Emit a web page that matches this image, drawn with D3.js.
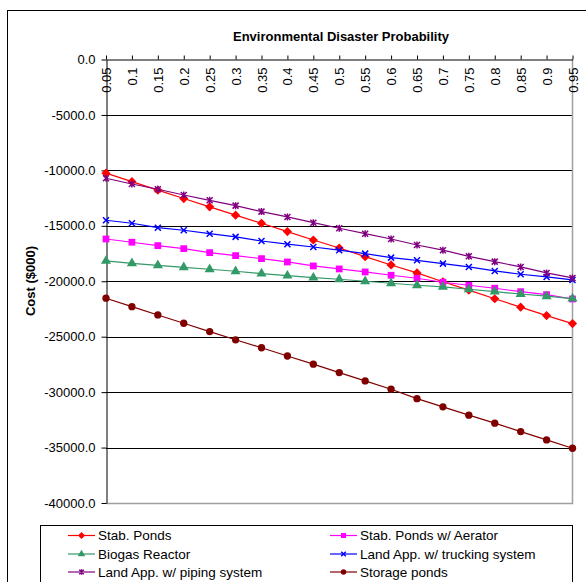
<!DOCTYPE html>
<html>
<head>
<meta charset="utf-8">
<script src="https://cdn.jsdelivr.net/npm/d3@7"></script>
<style>
  body { margin: 0; background: #fff; }
  svg { font-family: "Liberation Sans", Arial, sans-serif; }
  .axis text { font-size: 13px; fill: #000; }
  .axis path, .axis line { stroke: #000; }
</style>
</head>
<body>
<svg id="chart" width="586" height="582"></svg>
<script>
// probability values along the x axis
const probabilities = [0.05, 0.1, 0.15, 0.2, 0.25, 0.3, 0.35, 0.4, 0.45, 0.5, 0.55, 0.6, 0.65, 0.7, 0.75, 0.8, 0.85, 0.9, 0.95];
const xTickLabels = ["0.05", "0.1", "0.15", "0.2", "0.25", "0.3", "0.35", "0.4", "0.45", "0.5", "0.55", "0.6", "0.65", "0.7", "0.75", "0.8", "0.85", "0.9", "0.95"];
const yTicks = [0, -5000, -10000, -15000, -20000, -25000, -30000, -35000, -40000];

// cost ($000) per option
const stabPonds = [-10250, -11020, -11780, -12540, -13290, -14040, -14770, -15520, -16280, -17000, -17780, -18530, -19250, -20050, -20800, -21580, -22340, -23100, -23820];
const stabPondsAerator = [-16190, -16480, -16790, -17060, -17420, -17690, -17960, -18260, -18620, -18890, -19160, -19460, -19730, -20090, -20360, -20630, -20940, -21210, -21600];
const biogasReactor = [-18170, -18380, -18560, -18740, -18920, -19100, -19310, -19500, -19680, -19820, -20000, -20180, -20360, -20510, -20720, -20940, -21150, -21350, -21570];
const landAppTrucking = [-14500, -14770, -15170, -15400, -15710, -16000, -16370, -16660, -16910, -17200, -17510, -17870, -18110, -18410, -18710, -19070, -19370, -19610, -19880];
const landAppPiping = [-10710, -11230, -11700, -12220, -12700, -13180, -13720, -14200, -14720, -15220, -15710, -16190, -16730, -17200, -17750, -18230, -18710, -19250, -19700];
const storagePonds = [-21530, -22290, -23040, -23790, -24540, -25280, -26000, -26740, -27480, -28240, -28990, -29740, -30590, -31330, -32080, -32800, -33560, -34310, -35060];

const seriesNames = ["Stab. Ponds", "Stab. Ponds w/ Aerator", "Biogas Reactor", "Land App. w/ trucking system", "Land App. w/ piping system", "Storage ponds"];

const series = [
  {name: seriesNames[0], values: stabPonds, color: "#ff0000", marker: "diamond"},
  {name: seriesNames[1], values: stabPondsAerator, color: "#ff00ff", marker: "square"},
  {name: seriesNames[2], values: biogasReactor, color: "#339966", marker: "triangle"},
  {name: seriesNames[3], values: landAppTrucking, color: "#0000ff", marker: "x"},
  {name: seriesNames[4], values: landAppPiping, color: "#800080", marker: "star"},
  {name: seriesNames[5], values: storagePonds, color: "#800000", marker: "circle"}
];

const svg = d3.select("#chart");

// outer chart frame (runs off the picture on the right and bottom)
svg.append("rect")
  .attr("x", 7.5).attr("y", 10.5)
  .attr("width", 620).attr("height", 620)
  .attr("fill", "#fff").attr("stroke", "#000").attr("stroke-width", 1);

const plot = {left: 106, right: 572.5, top: 59.5, bottom: 503};

const x = d3.scaleLinear().domain([0.05, 0.95]).range([plot.left, plot.right]);
const y = d3.scaleLinear().domain([-40000, 0]).range([plot.bottom, plot.top]);

// gridlines
svg.append("g")
  .selectAll("line")
  .data(yTicks.filter(d => d !== 0 && d !== -40000))
  .join("line")
  .attr("x1", plot.left).attr("x2", plot.right)
  .attr("y1", d => Math.round(y(d)) + 0.5).attr("y2", d => Math.round(y(d)) + 0.5)
  .attr("stroke", "#000");

// grey plot-area border on right and bottom
svg.append("path")
  .attr("d", `M${plot.right},${plot.top}V${Math.round(plot.bottom) + 0.5}H${plot.left}`)
  .attr("fill", "none").attr("stroke", "#a0a0a0").attr("stroke-width", 1.5);

// y axis
const yAxisG = svg.append("g")
  .attr("class", "axis")
  .attr("transform", `translate(${plot.left + 0.5},0)`)
  .call(d3.axisLeft(y).tickValues(yTicks).tickFormat(d => d.toFixed(1)).tickSize(5).tickSizeOuter(0).tickPadding(6));

// x axis across the top, at zero
const xAxisG = svg.append("g")
  .attr("class", "axis")
  .attr("transform", `translate(0,${y(0)})`)
  .call(d3.axisTop(x).tickValues(probabilities).tickFormat((d, i) => xTickLabels[i]).tickSize(4).tickSizeOuter(0));

xAxisG.selectAll("text")
  .attr("transform", "rotate(-90)")
  .attr("x", -8)
  .attr("y", 0)
  .attr("dy", "0.35em")
  .style("text-anchor", "end");

// axis title
svg.append("text")
  .attr("transform", "translate(35,281) rotate(-90)")
  .attr("text-anchor", "middle")
  .style("font-size", "13px")
  .style("font-weight", "bold")
  .text("Cost ($000)");

// chart title
svg.append("text")
  .attr("x", 341).attr("y", 41)
  .attr("text-anchor", "middle")
  .style("font-size", "13px")
  .style("font-weight", "bold")
  .text("Environmental Disaster Probability");

// marker drawing
function drawMarker(g, type, color, scale) {
  const s = scale || 1;
  if (type === "diamond") {
    const r = 4.6 * s;
    g.append("path").attr("d", `M0,${-r}L${r},0L0,${r}L${-r},0Z`).attr("fill", color);
  } else if (type === "square") {
    g.append("path").attr("d", d3.symbol(d3.symbolSquare, 46 * s * s)()).attr("fill", color);
  } else if (type === "triangle") {
    g.append("path").attr("d", d3.symbol(d3.symbolTriangle, 44 * s * s)()).attr("fill", color);
  } else if (type === "circle") {
    g.append("path").attr("d", d3.symbol(d3.symbolCircle, 42 * s * s)()).attr("fill", color);
  } else if (type === "x") {
    const r = 3 * s;
    g.append("path").attr("d", `M${-r},${-r}L${r},${r}M${-r},${r}L${r},${-r}`)
      .attr("stroke", color).attr("stroke-width", 1.5).attr("fill", "none");
  } else if (type === "star") {
    const r = 3 * s;
    g.append("path").attr("d", `M${-r},${-r}L${r},${r}M${-r},${r}L${r},${-r}M0,${-r - 0.5}V${r + 0.5}`)
      .attr("stroke", color).attr("stroke-width", 1.5).attr("fill", "none");
  }
}

const line = d3.line()
  .x((d, i) => x(probabilities[i]))
  .y(d => y(d));

series.forEach(s => {
  const g = svg.append("g");
  g.append("path")
    .attr("d", line(s.values))
    .attr("fill", "none")
    .attr("stroke", s.color)
    .attr("stroke-width", 1.2);
  s.values.forEach((v, i) => {
    const m = g.append("g").attr("transform", `translate(${x(probabilities[i])},${y(v)})`);
    drawMarker(m, s.marker, s.color, 1);
  });
});

// legend
const legend = svg.append("g");
legend.append("rect")
  .attr("x", 40.5).attr("y", 525.5)
  .attr("width", 532).attr("height", 80)
  .attr("fill", "#fff").attr("stroke", "#000");

const legendCols = [68, 330];
const legendRows = [535.5, 554, 572];

series.forEach((s, i) => {
  const lx = legendCols[i % 2];
  const ly = legendRows[Math.floor(i / 2)];
  const item = legend.append("g");
  item.append("line")
    .attr("x1", lx).attr("x2", lx + 27)
    .attr("y1", ly).attr("y2", ly)
    .attr("stroke", s.color).attr("stroke-width", 1.2);
  const m = item.append("g").attr("transform", `translate(${lx + 13.5},${ly})`);
  drawMarker(m, s.marker, s.color, 0.75);
  item.append("text")
    .attr("x", lx + 30).attr("y", ly)
    .attr("dy", "0.35em")
    .style("font-size", "13.5px")
    .text(s.name);
});
</script>
</body>
</html>
